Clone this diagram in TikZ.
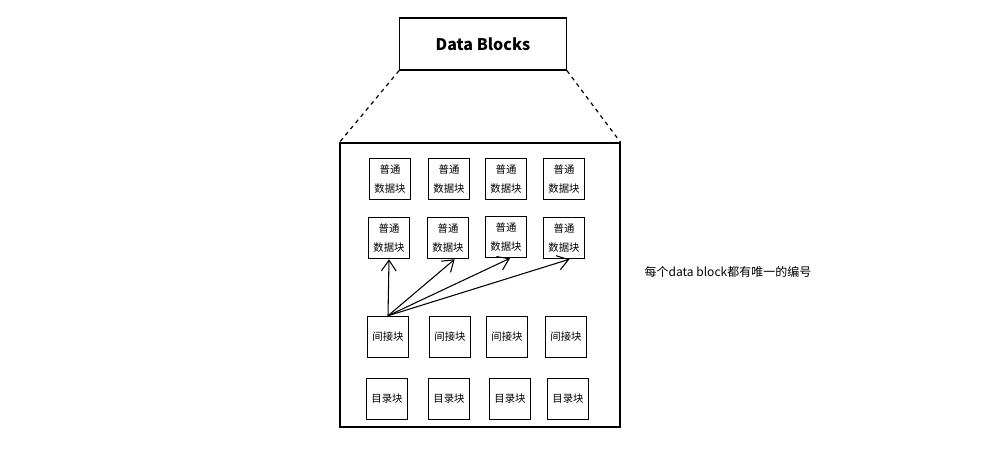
\documentclass[tikz,border=0pt]{standalone}
\usepackage{fontspec}
\setmainfont{Noto Sans CJK SC}
\usetikzlibrary{arrows.meta}

\begin{document}
\begin{tikzpicture}[x=0.75pt, y=-0.75pt,
  blk/.style={draw, line width=0.9pt, minimum width=31pt, minimum height=31pt, inner sep=0pt, align=center, font=\fontsize{7.8}{14}\selectfont},
  arr/.style={-{Straight Barb[length=8pt,width=11pt]}, line width=0.8pt}]

\useasboundingbox (0,0) rectangle (983,455);

\node[draw, line width=0.9pt, minimum width=125pt, minimum height=39pt, font=\fontsize{12}{14}\selectfont\bfseries] at (483,44) (title) {Data Blocks};
\node[draw, line width=0.9pt, minimum width=210pt, minimum height=213pt] at (480,285) (disk) {};

\draw[dashed, line width=0.9pt] (title.south west)--(disk.north west);
\draw[dashed, line width=0.9pt] (title.south east)--(disk.north east);

% 普通数据块
\node[blk] at (390,179) (d1) {普通\\数据块};
\node[blk] at (449,179) (d2) {普通\\数据块};
\node[blk] at (506,179) (d3) {普通\\数据块};
\node[blk] at (564,179) (d4) {普通\\数据块};
\node[blk] at (389,238) (d5) {普通\\数据块};
\node[blk] at (448,238) (d6) {普通\\数据块};
\node[blk] at (506,237) (d7) {普通\\数据块};
\node[blk] at (564,238) (d8) {普通\\数据块};

% 间接块
\node[blk] at (388,337) (i1) {间接块};
\node[blk] at (450,337) (i2) {间接块};
\node[blk] at (507,337) (i3) {间接块};
\node[blk] at (566,337) (i4) {间接块};

% 目录块
\node[blk] at (387,399) (m1) {目录块};
\node[blk] at (449,399) (m2) {目录块};
\node[blk] at (510,399) (m3) {目录块};
\node[blk] at (568,399) (m4) {目录块};

\draw[arr] (i1.north)--(d5.south);
\draw[arr] (i1.north)--([xshift=5pt]d6.south);
\draw[arr] (i1.north)--([xshift=3pt]d7.south);
\draw[arr] (i1.north)--([xshift=4pt]d8.south);

\node[anchor=west, font=\fontsize{9}{11}\selectfont] at (640,272) (note) {每个data block都有唯一的编号};
\end{tikzpicture}
\end{document}
